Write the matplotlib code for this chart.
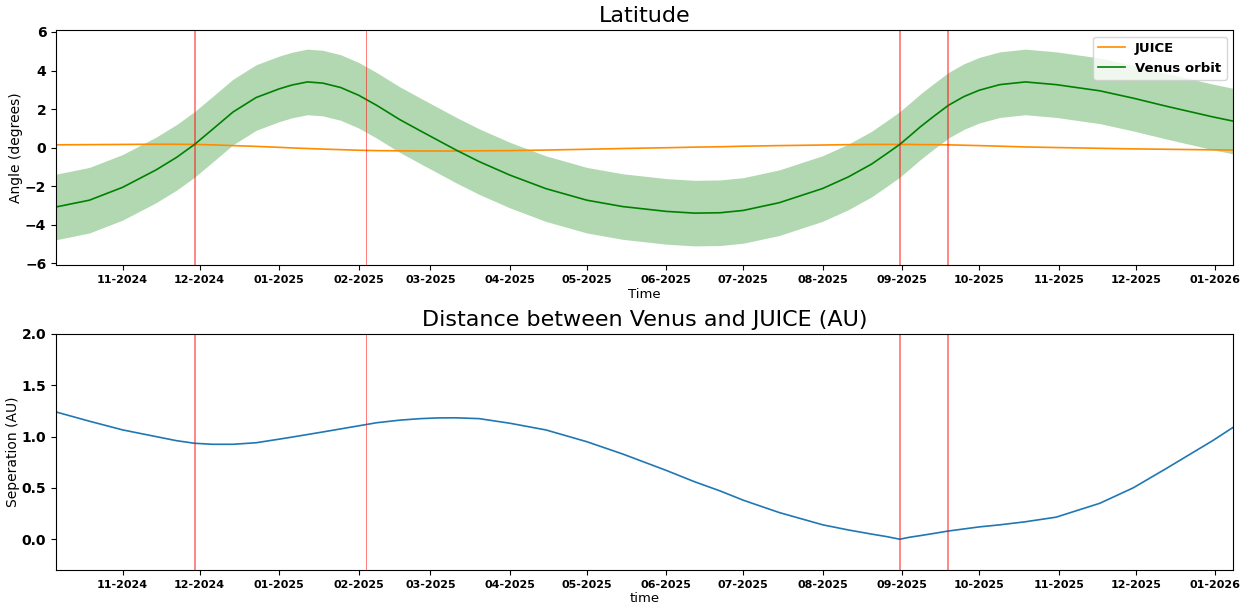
import matplotlib
matplotlib.use("Agg")
import matplotlib.pyplot as plt
import matplotlib.dates as mdates
import numpy as np
import pandas as pd

# sample dates (shared by all series)
dates = pd.to_datetime([
    "2024-10-06", "2024-10-19", "2024-11-01", "2024-11-14", "2024-11-22",
    "2024-11-29", "2024-12-06", "2024-12-14", "2024-12-23", "2025-01-01",
    "2025-01-06", "2025-01-12", "2025-01-18", "2025-01-25", "2025-02-01",
    "2025-02-08", "2025-02-17", "2025-02-25", "2025-03-04", "2025-03-11",
    "2025-03-20", "2025-04-01", "2025-04-15", "2025-05-01", "2025-05-15",
    "2025-06-01", "2025-06-12", "2025-06-22", "2025-07-01", "2025-07-15",
    "2025-08-01", "2025-08-11", "2025-08-20", "2025-08-26", "2025-08-31",
    "2025-09-04", "2025-09-08", "2025-09-13", "2025-09-19", "2025-09-25",
    "2025-10-01", "2025-10-09", "2025-10-19", "2025-10-31", "2025-11-17",
    "2025-11-30", "2025-12-13", "2025-12-31", "2026-01-08",
])

# latitude of Venus orbit (degrees)
venus_lat = [
    -3.07, -2.72, -2.05, -1.15, -0.5,
    0.17, 0.95, 1.85, 2.6, 3.05,
    3.25, 3.41, 3.35, 3.12, 2.72,
    2.2, 1.46, 0.88, 0.38, -0.12,
    -0.72, -1.42, -2.12, -2.72, -3.05,
    -3.3, -3.39, -3.37, -3.25, -2.85,
    -2.11, -1.51, -0.85, -0.3, 0.17,
    0.62, 1.08, 1.6, 2.2, 2.65,
    2.98, 3.27, 3.41, 3.27, 2.95,
    2.57, 2.15, 1.6, 1.38,
]
venus_band = 1.7  # half width of shaded band

# latitude of JUICE (degrees)
juice_lat = [
    0.15, 0.16, 0.17, 0.18, 0.18,
    0.17, 0.15, 0.11, 0.07, 0.02,
    -0.01, -0.04, -0.07, -0.10, -0.13,
    -0.15, -0.16, -0.17, -0.17, -0.17,
    -0.16, -0.15, -0.12, -0.08, -0.04,
    0.0, 0.03, 0.05, 0.08, 0.11,
    0.14, 0.16, 0.17, 0.17, 0.17,
    0.17, 0.16, 0.16, 0.15, 0.13,
    0.11, 0.08, 0.04, 0.01, -0.03,
    -0.06, -0.08, -0.11, -0.12,
]

# Venus - JUICE distance (AU)
separation = [
    1.24, 1.15, 1.065, 1.0, 0.96,
    0.935, 0.925, 0.925, 0.94, 0.975,
    0.995, 1.02, 1.045, 1.075, 1.105,
    1.135, 1.16, 1.175, 1.182, 1.183,
    1.175, 1.13, 1.065, 0.95, 0.83,
    0.67, 0.56, 0.47, 0.38, 0.26,
    0.14, 0.09, 0.05, 0.025, 0.0,
    0.02, 0.035, 0.055, 0.08, 0.10,
    0.12, 0.14, 0.17, 0.215, 0.35,
    0.50, 0.69, 0.96, 1.09,
]

# event markers
red_events = pd.to_datetime(["2024-11-29", "2025-08-31", "2025-09-19"])
thin_event = pd.to_datetime("2025-02-04")

venus_lat = np.array(venus_lat)

fig = plt.figure(figsize=(12.51, 6.08), dpi=100)
ax1 = fig.add_axes([0.0448, 0.5641, 0.9409, 0.3865])
ax2 = fig.add_axes([0.0448, 0.0625, 0.9409, 0.3882])

ax1.plot(dates, juice_lat, color="darkorange", lw=1.2, label="JUICE")
ax1.plot(dates, venus_lat, color="green", lw=1.2, label="Venus orbit")
ax1.fill_between(dates, venus_lat - venus_band, venus_lat + venus_band,
                 color="green", alpha=0.3, lw=0)
ax1.set_ylim(-6.08, 6.1)
ax1.set_yticks([-6, -4, -2, 0, 2, 4, 6])
ax1.set_title("Latitude", fontsize=16)
ax1.set_xlabel("Time", fontsize=9.5, labelpad=2)
ax1.set_ylabel("Angle (degrees)", fontsize=10)
ax1.yaxis.set_label_coords(-0.028, 0.5)
ax1.legend(loc="upper right", prop={"weight": "bold", "size": 9.5})

ax2.plot(dates, separation, color="C0", lw=1.2)
ax2.set_ylim(-0.3, 2.0)
ax2.set_yticks([0.0, 0.5, 1.0, 1.5, 2.0])
ax2.set_title("Distance between Venus and JUICE (AU)", fontsize=16)
ax2.set_xlabel("time", fontsize=9.5, labelpad=2)
ax2.set_ylabel("Seperation (AU)", fontsize=10)
ax2.yaxis.set_label_coords(-0.031, 0.5)

for ax in (ax1, ax2):
    for d in red_events:
        ax.axvline(d, color="red", alpha=0.55, lw=1.2)
    ax.axvline(thin_event, color="red", alpha=0.6, lw=0.6)
    ax.set_xlim(dates[0], dates[-1])
    ax.xaxis.set_major_locator(mdates.MonthLocator())
    ax.xaxis.set_major_formatter(mdates.DateFormatter("%m-%Y"))
    for lab in ax.get_xticklabels():
        lab.set_fontweight("bold")
        lab.set_fontsize(8)
    for lab in ax.get_yticklabels():
        lab.set_fontweight("bold")
        lab.set_fontsize(10)

fig.savefig("out.png", dpi=100)
